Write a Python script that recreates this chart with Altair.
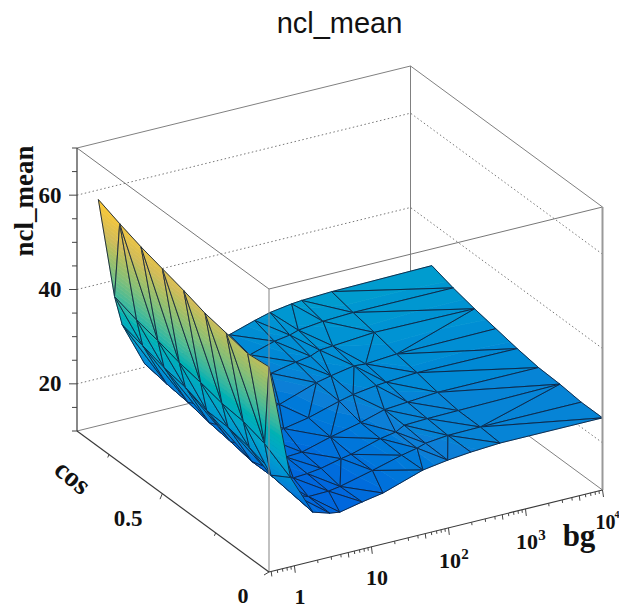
import altair as alt
import math

# ---- data: one row of (log10 bg) / ncl_mean per cos bin ----
COS_BINS = [0.0, 0.1, 0.2, 0.3, 0.4, 0.5, 0.6, 0.7, 0.8]
LOG_BG = [
    [-.33, -.05, .24, .46, .59, .88, 1.15, 1.67, 1.99, 2.29, 2.67, 4],
    [-.33, -.11, -.03, .28, .46, .72, .87, 1.29, 1.67, 1.87, 1.98, 2.27, 2.69, 4],
    [-.33, -.11, -.03, .28, .54, .72, .90, 1.16, 1.29, 1.67, 1.87, 1.98, 2.28, 2.68, 4],
    [-.33, -.11, -.03, .28, .72, .93, 1.30, 1.69, 2.0, 2.30, 2.69, 4],
    [-.33, -.11, -.03, .28, .72, .97, 1.29, 1.69, 1.87, 2.17, 2.30, 2.70, 4],
    [-.33, -.11, -.03, .28, .75, 1.19, 1.67, 1.86, 2.16, 2.31, 2.71, 4],
    [-.33, -.11, -.03, .28, .97, 1.36, 1.68, 1.87, 1.99, 2.16, 2.70, 4],
    [-.33, -.11, -.03, .28, .97, 1.36, 1.68, 1.88, 1.99, 2.31, 2.70, 4],
    [-.33, -.12, -.02, .27, .75, 1.37, 1.70, 1.90, 2.18, 2.31, 2.70, 4],
]
NCL = [
    [53.5, 28.9, 20.4, 19.3, 19.0, 20.0, 20.8, 23.6, 24.4, 24.9, 25.3, 25.3],
    [53.0, 33.0, 26.0, 20.5, 19.5, 19.6, 20.0, 21.7, 23.4, 24.1, 24.7, 25.2, 25.3, 25.3],
    [54.0, 34.4, 28.5, 21.0, 19.8, 20.0, 20.4, 21.4, 21.8, 23.6, 24.2, 25.2, 25.4, 25.5, 25.8],
    [54.9, 34.9, 29.5, 21.0, 20.2, 20.4, 22.1, 23.6, 25.1, 25.5, 26.0, 26.0],
    [56.4, 36.0, 29.7, 21.9, 21.0, 21.9, 22.9, 24.8, 25.5, 26.2, 26.4, 26.8, 26.7],
    [57.7, 36.9, 31.3, 22.6, 22.8, 22.8, 25.5, 26.2, 27.1, 26.9, 27.4, 27.6],
    [59.0, 38.2, 32.2, 23.6, 24.2, 25.4, 26.5, 27.0, 27.8, 28.0, 28.7, 28.5],
    [60.6, 39.3, 33.5, 24.2, 24.8, 26.0, 27.6, 28.1, 28.7, 29.3, 29.6, 29.6],
    [62.4, 41.0, 34.6, 25.2, 25.3, 26.9, 28.6, 29.5, 30.2, 30.4, 30.7, 31.0],
]
Z_TICKS = [10, 15, 20, 25, 30, 35, 40, 45, 50, 55, 60, 65, 70]
Z_MAJOR = [20, 40, 60]
COS_TICKS = [0.25, 0.5, 0.75]
BIRD = ["#352a87", "#0f5cdd", "#1481d6", "#06a4ca", "#2eb7a4",
        "#87bf77", "#d1bb59", "#fec832", "#f9fb0e"]

# ---- axis ranges and the fixed 3D view of the box ----
LOG_MIN, LOG_MAX = -0.33, 4.0
COS_MAX = 0.9
Z_MIN, Z_MAX = 10.0, 70.0
ORIGIN = (269.0, 572.0)
U_VEC = (333.5, -82.0)
V_VEC = (-192.0, -141.0)
Z_LEN = 283.0


def norm(logbg, cos):
    return (logbg - LOG_MIN) / (LOG_MAX - LOG_MIN), cos / COS_MAX


def screen(u, v, z):
    h = (z - Z_MIN) / (Z_MAX - Z_MIN) * Z_LEN
    return [ORIGIN[0] + u * U_VEC[0] + v * V_VEC[0],
            ORIGIN[1] + u * U_VEC[1] + v * V_VEC[1] - h]


# ---- Delaunay triangulation (as ROOT does for TRI surfaces) ----
def delaunay(pts):
    n = len(pts)
    all_pts = pts + [(-20.0, -20.0), (30.0, -20.0), (0.5, 40.0)]
    tris = [(n, n + 1, n + 2)]

    def circ(t, p):
        (ax, ay), (bx, by), (cx, cy) = (all_pts[i] for i in t)
        d = 2 * (ax * (by - cy) + bx * (cy - ay) + cx * (ay - by))
        if abs(d) < 1e-14:
            return False
        ux = ((ax*ax+ay*ay)*(by-cy) + (bx*bx+by*by)*(cy-ay) + (cx*cx+cy*cy)*(ay-by)) / d
        uy = ((ax*ax+ay*ay)*(cx-bx) + (bx*bx+by*by)*(ax-cx) + (cx*cx+cy*cy)*(bx-ax)) / d
        return (p[0]-ux)**2 + (p[1]-uy)**2 < (ax-ux)**2 + (ay-uy)**2 - 1e-12

    for i in range(n):
        p = all_pts[i]
        bad = [t for t in tris if circ(t, p)]
        edges = {}
        for t in bad:
            for e in ((t[0], t[1]), (t[1], t[2]), (t[2], t[0])):
                k = tuple(sorted(e))
                edges[k] = edges.get(k, 0) + 1
        tris = [t for t in tris if t not in bad]
        for (a, b), c in edges.items():
            if c == 1:
                tris.append((a, b, i))
    return [t for t in tris if max(t) < n]


verts = []
for cos, logs, vals in zip(COS_BINS, LOG_BG, NCL):
    for lg, val in zip(logs, vals):
        u, v = norm(lg, cos)
        verts.append((u, v, val))
triangles = delaunay([(a, b) for a, b, _ in verts])
triangles.sort(key=lambda t: -sum(0.5 * verts[i][0] + 0.866 * verts[i][1] for i in t))


def clip(poly, level, keep_above):
    out = []
    for i, p in enumerate(poly):
        q = poly[(i + 1) % len(poly)]
        pin = p[2] >= level if keep_above else p[2] <= level
        qin = q[2] >= level if keep_above else q[2] <= level
        if pin:
            out.append(p)
        if pin != qin:
            t = (level - p[2]) / (q[2] - p[2])
            out.append(tuple(p[k] + t * (q[k] - p[k]) for k in range(3)))
    return out


def feature(coords, z, edge, sw, fo):
    return {"type": "Feature",
            "geometry": {"type": "Polygon", "coordinates": [coords + [coords[0]]]},
            "properties": {"z": z, "edge": edge, "sw": sw, "fo": fo}}


surface = []
for t in triangles:
    tri = [verts[i] for i in t]
    lo, hi = min(p[2] for p in tri), max(p[2] for p in tri)
    for band in range(int(math.floor(lo)), int(math.ceil(hi))):
        poly = clip(tri, band, True)
        if len(poly) >= 3:
            poly = clip(poly, band + 1, False)
        if len(poly) >= 3:
            surface.append(feature([screen(*p) for p in poly], band + 0.5, 0, 0.7, 1))
    surface.append(feature([screen(*p) for p in tri], (lo + hi) / 2, 1, 0.9, 0))

color_scale = alt.Scale(domain=[Z_MIN + i * (Z_MAX - Z_MIN) / 8 for i in range(9)],
                        range=BIRD, clamp=True)
surface_layer = alt.Chart(alt.Data(values=surface)).mark_geoshape().encode(
    color=alt.Color("properties.z:Q", scale=color_scale, legend=None),
    fillOpacity=alt.FillOpacity("properties.fo:Q", scale=None),
    stroke=alt.condition("datum.properties.edge == 1", alt.value("#10203c"),
                         alt.Stroke("properties.z:Q", scale=color_scale, legend=None)),
    strokeWidth=alt.StrokeWidth("properties.sw:Q", scale=None),
)


def lines(segments, **style):
    feats = [{"type": "Feature", "properties": {},
              "geometry": {"type": "LineString", "coordinates": s}} for s in segments]
    return alt.Chart(alt.Data(values=feats)).mark_geoshape(filled=False, **style)


C = {(a, b, c): screen(a, b, Z_MAX if c else Z_MIN) for a in (0, 1) for b in (0, 1) for c in (0, 1)}

grid = []
for z in Z_MAJOR:
    grid.append([screen(0, 1, z), screen(1, 1, z), screen(1, 0, z)])

back_box = [[C[0, 1, 0], C[1, 1, 0]], [C[1, 1, 0], C[1, 0, 0]], [C[1, 1, 0], C[1, 1, 1]],
            [C[0, 1, 1], C[1, 1, 1]], [C[1, 1, 1], C[1, 0, 1]]]
front_top = [[C[0, 1, 1], C[0, 0, 1]], [C[0, 0, 1], C[1, 0, 1]]]
axes = [[C[0, 1, 0], C[0, 1, 1]], [C[0, 1, 0], C[0, 0, 0]], [C[0, 0, 0], C[1, 0, 0]]]


def offset(p, dx, dy):
    return [p, [p[0] + dx, p[1] + dy]]


ticks = []
for z in Z_TICKS:
    ticks.append(offset(screen(0, 1, z), -8 if z in Z_MAJOR else -5, 0))
for c in COS_TICKS:
    ln = 5.5 if c == 0.5 else 3
    ticks.append(offset(screen(0, c / COS_MAX, Z_MIN), -ln * 0.42, ln))
ticks.append(offset(C[0, 0, 0], -5, 3))
for dec in range(-1, 4):
    for m in range(1, 10):
        lg = dec + math.log10(m)
        if lg < LOG_MIN or lg > LOG_MAX:
            continue
        ln = 7 if m == 1 else (5 if m == 5 else 3)
        ticks.append(offset(screen(norm(lg, 0)[0], 0, Z_MIN), ln * 0.12, ln))
ticks.append(offset(C[1, 0, 0], 1, 7))

layers = [
    lines(grid, stroke="#777777", strokeWidth=1, strokeDash=[1.5, 2.5]),
    lines(back_box, stroke="#808080", strokeWidth=1),
    surface_layer,
    lines(front_top, stroke="#777777", strokeWidth=1),
    lines([[C[1, 0, 0], C[1, 0, 1]]], stroke="#999999", strokeWidth=2),
    lines([[C[0, 0, 0], C[0, 0, 1]]], stroke="#8a8a8a", strokeWidth=1.4, opacity=0.75),
    lines(axes, stroke="#3a3a3a", strokeWidth=1.2),
    lines(ticks, stroke="#444444", strokeWidth=1),
]

serif_text = [
    ("60", 50, 196, 23, 0), ("40", 50, 290, 23, 0), ("20", 50, 384, 23, 0),
    ("ncl_mean", 25, 201, 27, 270), ("cos", 72, 478, 28, 40),
    ("0.5", 128, 519, 23, 0), ("0", 243, 596, 22, 0), ("1", 300, 597, 22, 0),
    ("10", 377, 578, 22, 0), ("10", 450, 561, 22, 0), ("2", 465, 554, 15, 0),
    ("10", 527, 542, 22, 0), ("3", 542, 535, 15, 0), ("bg", 579, 537, 31, 0),
    ("10", 605.5, 523, 20, 0), ("4", 617, 515, 10, 0),
]
text_rows = [{"t": t, "x": x, "y": y, "s": s, "a": a} for t, x, y, s, a in serif_text]
text_layer = alt.Chart(alt.Data(values=text_rows)).mark_text(
    font="Liberation Serif", fontWeight="bold", color="#111111", align="center", baseline="middle"
).encode(
    longitude="x:Q", latitude="y:Q", text="t:N",
    size=alt.Size("s:Q", scale=None), angle=alt.Angle("a:Q", scale=None),
)
title_layer = alt.Chart(alt.Data(values=[{"t": "ncl_mean", "x": 339.5, "y": 24}])).mark_text(
    font="Liberation Sans", fontSize=29, color="#111111", align="center", baseline="middle"
).encode(longitude="x:Q", latitude="y:Q", text="t:N")

chart = alt.layer(*layers, text_layer, title_layer).project(
    type="identity", scale=1, translate=[-8, -8]
).properties(
    width=611, height=600, padding=0, autosize=alt.AutoSizeParams(type="none"),
    background="white",
).configure_view(stroke=None)

chart.save("out.html", embed_options={"renderer": "svg", "actions": False})
